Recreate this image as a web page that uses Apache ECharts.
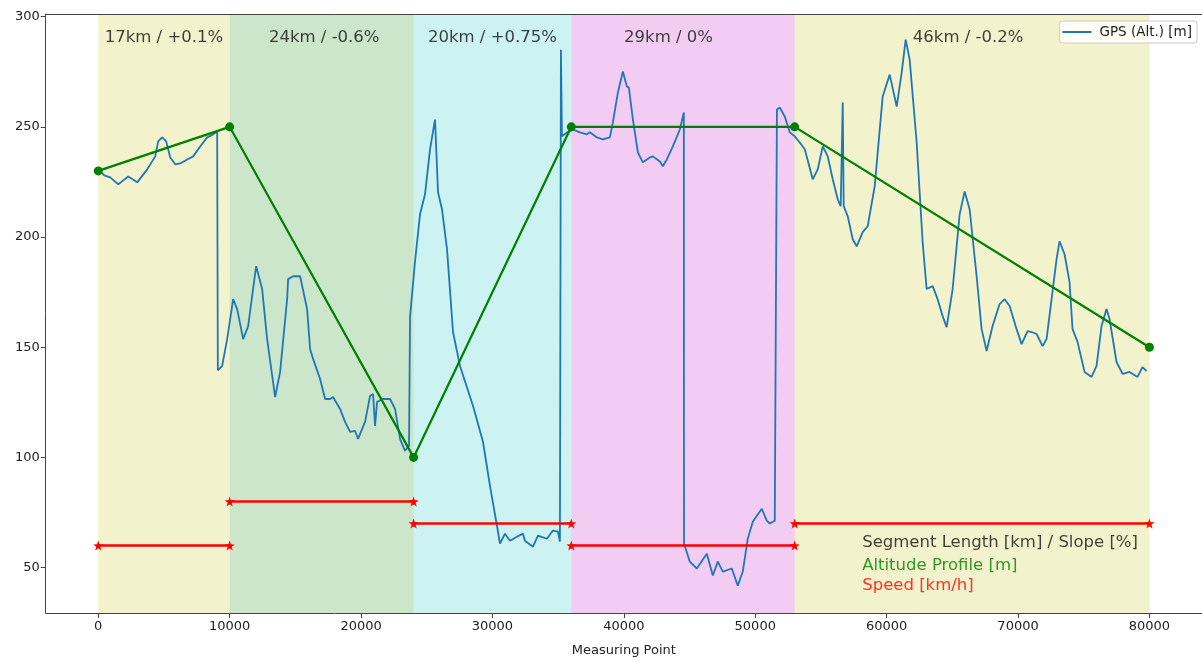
<!DOCTYPE html>
<html>
<head>
<meta charset="utf-8">
<script src="https://cdn.jsdelivr.net/npm/echarts@6/dist/echarts.min.js"></script>
<style>
  html, body { margin: 0; padding: 0; background: #fff; overflow: hidden; }
  #chart { width: 1202px; height: 662px; }
</style>
</head>
<body>
<div id="chart"></div>
<script>
// segment boundaries on the measuring point axis
var segBounds = [0, 10000, 24000, 36000, 53000, 80000];
// altitude profile at each boundary [m]
var altitude = [230, 250, 100, 250, 250, 150];
// speed per segment [km/h]
var speed = [60, 80, 70, 60, 70];
// segment label text and where it sits
var segLabels = ['17km / +0.1%', '24km / -0.6%', '20km / +0.75%', '29km / 0%', '46km / -0.2%'];
var segLabelX = [5000, 17200, 30000, 43400, 66200];
var segLabelY = 290.4;
// tick labels
var xTicks = [0, 10000, 20000, 30000, 40000, 50000, 60000, 70000, 80000];
var yTicks = [50, 100, 150, 200, 250, 300];
// annotation block lower right
var noteLines = ['Segment Length [km] / Slope [%]', 'Altitude Profile [m]', 'Speed [km/h]'];
var noteY = [61.3, 50.9, 41.8];
var noteX = 58100;

// GPS altitude [measuring point, m]
var gpsProfile = [
  [0, 230.7], [456, 228], [913, 227.1], [1521, 223.9], [2282, 227.5], [2966, 224.8],
  [3726, 230.7], [4335, 236.6], [4563, 243.4], [4867, 245.2], [5171, 243.4], [5476, 236.1],
  [5856, 233], [6236, 233.4], [6768, 235.2], [7225, 236.6], [7757, 241.1], [8289, 245.2],
  [8746, 246.6], [9050, 247.9], [9100, 139.5], [9430, 141.5], [9810, 153.7], [10267, 171.8],
  [10571, 167.3], [11027, 153.7], [11408, 159.6], [12016, 186.8], [12472, 176.4], [12852, 153.7],
  [13461, 127.4], [13841, 138.8], [14373, 171.8], [14450, 180.9], [14830, 182.2], [15362, 182.2],
  [15894, 167.3], [16123, 149.2], [16351, 144.7], [16883, 135.6], [17263, 126.5], [17644, 126.5],
  [17872, 127.4], [18404, 122], [18784, 116.1], [19165, 111.6], [19545, 112], [19773, 108.4],
  [20305, 116.1], [20686, 127.9], [20914, 128.8], [21066, 114.3], [21218, 125.2], [21674, 126.5],
  [22207, 126.5], [22587, 122], [22967, 108.4], [23347, 103], [23652, 105.3], [23728, 163.7],
  [23804, 162.8], [24108, 189], [24488, 210.3], [24868, 219.4], [25249, 239.8], [25629, 253.3],
  [25857, 220.3], [26161, 212.6], [26541, 194.5], [26998, 156.9], [27530, 141.5], [28519, 123.4],
  [29279, 107.1], [29812, 87.1], [30344, 69], [30572, 60.9], [30952, 65.4], [31333, 62.2],
  [31865, 64], [32321, 65.4], [32473, 62.2], [33082, 59.5], [33462, 64.5], [34146, 63.1],
  [34602, 66.8], [34983, 66.3], [35135, 61.8], [35211, 285], [35287, 245.7], [35700, 247.5],
  [36124, 248.8], [36656, 247.5], [37188, 246.6], [37417, 247.5], [37949, 245.2], [38405, 244.3],
  [38938, 245.2], [39166, 252], [39546, 265.6], [39926, 275.1], [40230, 268.3], [40383, 267.8],
  [40687, 253.4], [41067, 238.4], [41447, 233.9], [41980, 236.1], [42208, 236.6], [42740, 234.3],
  [42968, 232.1], [43272, 235.2], [43729, 241.1], [44261, 248.8], [44565, 256.5], [44580, 60.9],
  [45022, 52.7], [45554, 49.6], [46314, 56.3], [46771, 46.4], [47151, 52.7], [47531, 48.2],
  [48216, 49.6], [48672, 41.8], [49052, 48.2], [49433, 63.1], [49813, 70.8], [50497, 76.7],
  [50877, 71.3], [51106, 70], [51486, 71.3], [51638, 71.3], [51650, 257.9], [51866, 258.8],
  [52246, 254.7], [52627, 247.5], [53007, 245.7], [53387, 242.9], [53767, 239.8], [54376, 226.2],
  [54756, 230.7], [55136, 241.1], [55517, 236.6], [55897, 226.2], [56277, 217.1], [56505, 214],
  [56657, 261], [56733, 214], [57038, 209.4], [57418, 199], [57722, 195.8], [58178, 202.2],
  [58559, 204.9], [59091, 223], [59699, 263.8], [60232, 273.7], [60764, 259.2], [61144, 274.6],
  [61448, 289.6], [61753, 280.5], [62285, 242.9], [62741, 197.6], [63045, 176.4], [63502, 177.7],
  [63882, 171.8], [64262, 164.1], [64566, 159.1], [65023, 176.4], [65555, 210.3], [65936, 220.7],
  [66316, 212.6], [66848, 182.2], [67228, 158.2], [67608, 148.3], [68064, 159.6], [68597, 169.6],
  [68977, 171.8], [69358, 168.7], [69890, 158.2], [70270, 151.4], [70726, 157.3], [71031, 156.9],
  [71411, 156], [71867, 150.5], [72171, 153.7], [72552, 171.8], [72932, 190], [73160, 198.1],
  [73540, 192.2], [73921, 179.5], [74149, 158.2], [74529, 152.4], [75062, 138.8], [75594, 136.5],
  [75974, 141.5], [76354, 159.6], [76734, 167.3], [76963, 162.8], [77495, 143.3], [77951, 137.9],
  [78484, 138.8], [79092, 136.5], [79472, 141], [79777, 139.2]
];

var bandColors = ['rgba(191,191,0,0.2)', 'rgba(0,128,0,0.2)', 'rgba(0,191,191,0.2)',
                  'rgba(191,0,191,0.2)', 'rgba(191,191,0,0.2)'];

var myChart = echarts.init(document.getElementById('chart'));

var bands = [];
for (var i = 0; i < segBounds.length - 1; i++) {
  bands.push([
    { xAxis: segBounds[i], itemStyle: { color: bandColors[i] } },
    { xAxis: segBounds[i + 1] }
  ]);
}

var altData = segBounds.map(function (x, i) { return [x, altitude[i]]; });

var series = [
  {
    name: 'GPS (Alt.) [m]',
    type: 'line',
    data: gpsProfile,
    showSymbol: false,
    symbol: 'none',
    lineStyle: { color: '#1f77b4', width: 1.8 },
    itemStyle: { color: '#1f77b4' },
    z: 3,
    markArea: { silent: true, data: bands }
  },
  {
    name: 'altitude',
    type: 'line',
    data: altData,
    symbol: 'circle',
    symbolSize: 9,
    lineStyle: { color: 'green', width: 2.2 },
    itemStyle: { color: 'green' },
    z: 4
  }
];

for (var s = 0; s < speed.length; s++) {
  series.push({
    name: 'speed' + s,
    type: 'line',
    data: [[segBounds[s], speed[s]], [segBounds[s + 1], speed[s]]],
    symbol: 'path://M0,-10 L2.35,-3.24 L9.51,-3.09 L3.8,1.24 L5.88,8.09 L0,4 L-5.88,8.09 L-3.8,1.24 L-9.51,-3.09 L-2.35,-3.24 Z',
    symbolSize: 10,
    lineStyle: { color: 'red', width: 2.5 },
    itemStyle: { color: 'red' },
    z: 5
  });
}

series.push({
  name: 'segLabels',
  type: 'scatter',
  silent: true,
  data: segLabelX.map(function (x, i) { return { value: [x, segLabelY], label: { formatter: segLabels[i] } }; }),
  symbolSize: 1,
  itemStyle: { color: 'rgba(0,0,0,0)' },
  label: {
    show: true, position: 'inside', align: 'center', verticalAlign: 'middle',
    color: '#111', fontSize: 16.5, fontFamily: 'DejaVu Sans'
  },
  z: 6
});

var noteColors = ['#111', 'green', 'red'];
series.push({
  name: 'notes',
  type: 'scatter',
  silent: true,
  data: noteLines.map(function (t, i) {
    return { value: [noteX, noteY[i]], label: { formatter: t, color: noteColors[i] } };
  }),
  symbolSize: 1,
  itemStyle: { color: 'rgba(0,0,0,0)' },
  label: {
    show: true, position: 'right', distance: 0,
    fontSize: 16.5, fontFamily: 'DejaVu Sans'
  },
  z: 6
});

function plain(v) { return String(v); }

var option = {
  animation: false,
  backgroundColor: '#fff',
  textStyle: { fontFamily: 'DejaVu Sans' },
  grid: { left: 45.7, right: -0.6, top: 14, bottom: 48 },
  legend: {
    data: ['GPS (Alt.) [m]'],
    right: 5, top: 21,
    icon: 'rect', itemWidth: 29, itemHeight: 2, itemGap: 8,
    backgroundColor: 'rgba(255,255,255,0.8)',
    borderColor: '#ccc', borderWidth: 1, borderRadius: 3,
    padding: [4, 5, 4, 3],
    textStyle: { fontSize: 13.5, color: '#222', fontFamily: 'DejaVu Sans', padding: [0, 0, 0, 3] }
  },
  xAxis: [{
    type: 'value',
    min: -4000, max: 84000,
    name: 'Measuring Point', nameLocation: 'middle', nameGap: 31,
    nameTextStyle: { fontSize: 13, color: '#222' },
    axisLine: { show: true, onZero: false, lineStyle: { color: '#444', width: 1 } },
    axisTick: { show: true, length: 5, customValues: xTicks, lineStyle: { color: '#444' } },
    axisLabel: { customValues: xTicks, formatter: plain, fontSize: 13, color: '#222', margin: 7 },
    splitLine: { show: false },
    z: 10
  }, {
    type: 'value', position: 'top',
    min: -4000, max: 84000,
    axisLine: { show: true, onZero: false, lineStyle: { color: '#444', width: 1 } },
    axisTick: { show: false }, axisLabel: { show: false }, splitLine: { show: false },
    z: 10
  }],
  yAxis: [{
    type: 'value',
    min: 29.4, max: 301.2,
    axisLine: { show: true, onZero: false, lineStyle: { color: '#444', width: 1 } },
    axisTick: { show: true, length: 5, customValues: yTicks, lineStyle: { color: '#444' } },
    axisLabel: { customValues: yTicks, formatter: plain, fontSize: 13, color: '#222', margin: 6 },
    splitLine: { show: false },
    z: 10
  }, {
    type: 'value', position: 'right',
    min: 29.4, max: 301.2,
    axisLine: { show: true, onZero: false, lineStyle: { color: '#444', width: 1 } },
    axisTick: { show: false }, axisLabel: { show: false }, splitLine: { show: false },
    z: 10
  }],
  series: series
};

myChart.setOption(option);
</script>
</body>
</html>
